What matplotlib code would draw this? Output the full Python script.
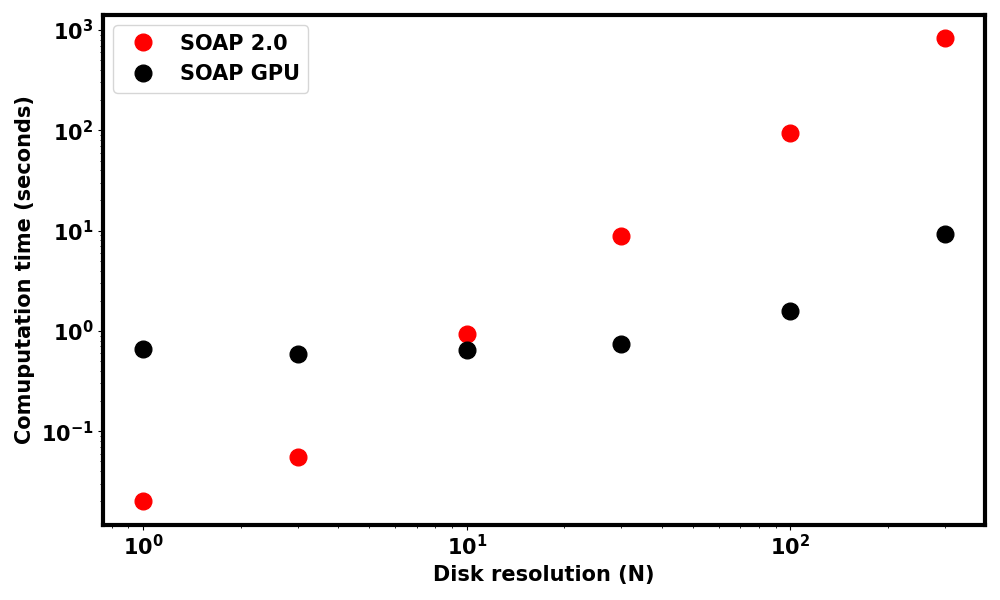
import matplotlib
matplotlib.use("Agg")
import matplotlib.pyplot as plt

resolution = [1, 3, 10, 30, 100, 300]
soap20 = [0.020, 0.056, 0.94, 8.8, 94, 830]
soap_gpu = [0.66, 0.59, 0.64, 0.74, 1.57, 9.2]

plt.rcParams['font.weight'] = 'bold'
fig, ax = plt.subplots(figsize=(10, 6), dpi=100)
ax.plot(resolution, soap20, 'o', markersize=12, color='red', label='SOAP 2.0', zorder=3)
ax.plot(resolution, soap_gpu, 'o', markersize=12, color='black', label='SOAP GPU', zorder=3)
ax.set_xscale('log')
ax.set_yscale('log')
ax.set_xlabel('Disk resolution (N)', fontsize=15, fontweight='bold')
ax.set_ylabel('Comuputation time (seconds)', fontsize=15, fontweight='bold')
ax.tick_params(axis='both', which='major', labelsize=15)
for lab in ax.get_xticklabels() + ax.get_yticklabels():
    lab.set_fontweight('bold')
for sp in ax.spines.values():
    sp.set_linewidth(3)
leg = ax.legend(loc='upper left', prop={'weight': 'bold', 'size': 15})
fig.tight_layout()
fig.savefig('out.png', dpi=100)
